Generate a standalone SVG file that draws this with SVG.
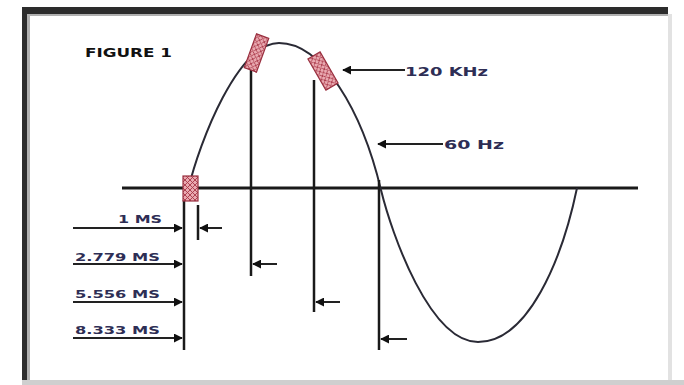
<svg xmlns="http://www.w3.org/2000/svg" width="684" height="385" viewBox="0 0 684 385">
<style>
.ln{stroke:#1a1a1a;stroke-width:2.5;fill:none}
.ar{stroke:#222;stroke-width:2;fill:none}
.lbl{font-family:"DejaVu Sans",Verdana,sans-serif;font-weight:bold;fill:#2e2e55}
.hb{fill:url(#hatch);stroke:#9a3040;stroke-width:1.2}
</style>
<defs>
<pattern id="hatch" width="5" height="5" patternUnits="userSpaceOnUse">
<rect width="5" height="5" fill="#e9a9b0"/>
<path d="M0 0L5 5M5 0L0 5" stroke="#a83848" stroke-width="0.9"/>
</pattern>
<marker id="ah" viewBox="0 0 10 10" refX="9" refY="5" markerWidth="4.5" markerHeight="4.5" orient="auto" markerUnits="strokeWidth">
<path d="M0 0L10 5L0 10z" fill="#111"/>
</marker>
</defs>
<rect width="684" height="385" fill="#fff"/>
<g id="frame">
<rect x="22" y="7" width="646" height="7" fill="#2c2c2c"/>
<rect x="22" y="7" width="5" height="374" fill="#2c2c2c"/>
<rect x="27" y="14" width="641" height="2" fill="#b0b0b0"/>
<rect x="27" y="14" width="3" height="367" fill="#b0b0b0"/>
<rect x="668" y="14" width="4" height="371" fill="#e2e2e2"/>
<rect x="22" y="380" width="662" height="5" fill="#cfcfcf"/>
</g>
<g id="axis"><line x1="122" y1="188" x2="638" y2="188" stroke="#1a1a1a" stroke-width="3"/></g>
<g id="wave"><path d="M188 190C200 140 238 43 279 43C322 43 362 110 381 190C392 235 430 342 478 342C528 342 562 260 577 188" stroke="#2a2a35" stroke-width="2" fill="none"/></g>
<g id="verticals">
<line class="ln" x1="184" y1="200" x2="184" y2="350"/>
<line class="ln" x1="198" y1="205" x2="198" y2="240"/>
<line class="ln" x1="251" y1="55" x2="251" y2="276"/>
<line class="ln" x1="314" y1="80" x2="314" y2="312"/>
<line class="ln" x1="379" y1="180" x2="379" y2="350"/>
</g>
<g id="marker-start"><rect class="hb" x="183" y="176" width="15" height="25"/></g>
<g id="marker-peak1"><rect class="hb" x="250" y="35" width="13" height="36" transform="rotate(20 256.5 53)"/></g>
<g id="marker-peak2"><rect class="hb" x="316" y="53" width="14" height="36" transform="rotate(-30 323 71)"/></g>
<g id="connectors">
<line class="ar" x1="73" y1="228" x2="182" y2="228" marker-end="url(#ah)"/>
<line class="ar" x1="222" y1="228" x2="200" y2="228" marker-end="url(#ah)"/>
<line class="ar" x1="73" y1="264" x2="182" y2="264" marker-end="url(#ah)"/>
<line class="ar" x1="73" y1="302" x2="182" y2="302" marker-end="url(#ah)"/>
<line class="ar" x1="73" y1="338" x2="182" y2="338" marker-end="url(#ah)"/>
<line class="ar" x1="277" y1="264" x2="253" y2="264" marker-end="url(#ah)"/>
<line class="ar" x1="340" y1="302" x2="316" y2="302" marker-end="url(#ah)"/>
<line class="ar" x1="407" y1="339" x2="381" y2="339" marker-end="url(#ah)"/>
<line class="ar" x1="405" y1="70" x2="343" y2="70" marker-end="url(#ah)"/>
<line class="ar" x1="443" y1="144" x2="378" y2="144" marker-end="url(#ah)"/>
</g>
<g id="title"><text x="85" y="57" font-family="DejaVu Sans,sans-serif" font-weight="bold" font-size="13" fill="#111" textLength="87" lengthAdjust="spacingAndGlyphs">FIGURE 1</text></g>
<g id="label-120khz"><text class="lbl" x="405" y="76" font-size="13" textLength="83" lengthAdjust="spacingAndGlyphs">120 KHz</text></g>
<g id="label-60hz"><text class="lbl" x="444" y="149" font-size="13" textLength="60" lengthAdjust="spacingAndGlyphs">60 Hz</text></g>
<g id="label-1ms"><text class="lbl" x="118" y="223" font-size="11" textLength="44" lengthAdjust="spacingAndGlyphs">1 MS</text></g>
<g id="label-2779ms"><text class="lbl" x="75" y="261" font-size="11" textLength="85" lengthAdjust="spacingAndGlyphs">2.779 MS</text></g>
<g id="label-5556ms"><text class="lbl" x="75" y="298" font-size="11" textLength="85" lengthAdjust="spacingAndGlyphs">5.556 MS</text></g>
<g id="label-8333ms"><text class="lbl" x="75" y="334" font-size="11" textLength="85" lengthAdjust="spacingAndGlyphs">8.333 MS</text></g>
</svg>
